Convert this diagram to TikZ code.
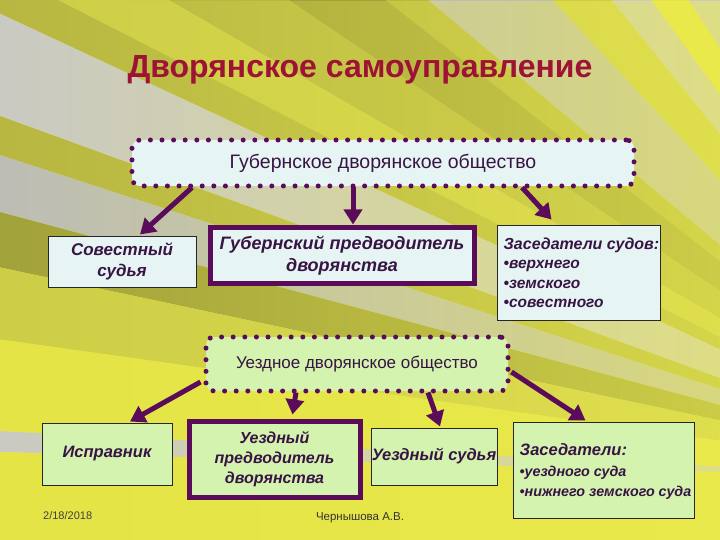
\documentclass[tikz,border=0pt]{standalone}
\usepackage{fontspec}
\setmainfont{Liberation Sans}
\usetikzlibrary{arrows.meta,calc,fadings}
\tikzfading[name=rightbright, left color=transparent!100, right color=transparent!45]
\definecolor{bgbase}{HTML}{ECEC4A}
\definecolor{byel}{HTML}{EEEE52}
\definecolor{yel}{HTML}{E4E446}
\definecolor{yolive}{HTML}{CDCD48}
\definecolor{olive}{HTML}{B7B742}
\definecolor{dolive}{HTML}{A2A23B}
\definecolor{lgrey}{HTML}{CACAC4}
\definecolor{mgrey}{HTML}{BDBDB6}
\definecolor{cyanfill}{HTML}{E6F4F3}
\definecolor{greenfill}{HTML}{D3F3AE}
\definecolor{dpurple}{HTML}{5A0C5A}
\definecolor{txtpurple}{HTML}{381444}
\definecolor{titlered}{HTML}{9E1236}
\newcommand\rayfan[3]{\fill[#3] (F) -- ($(F)+(-#1:1500)$) -- ($(F)+(-#2:1500)$) -- cycle;}
\tikzset{
  cbox/.style={fill=cyanfill, draw=black!85, line width=1pt, inner sep=0pt},
  gbox/.style={fill=greenfill, draw=black!85, line width=1pt, inner sep=0pt},
  pbox/.style={draw=dpurple, line width=5pt, inner sep=0pt},
  dotbox/.style={draw=dpurple, line width=5pt, dash pattern=on 0pt off 11.6pt, line cap=round, rounded corners=8pt, inner sep=0pt},
  bi/.style={font=\fontsize{17}{21}\selectfont\bfseries\itshape, text=txtpurple, align=center},
  arr/.style={draw=dpurple, line width=5pt, -{Triangle[length=15pt,width=18pt]}},
}
\begin{document}
\begin{tikzpicture}[x=1pt,y=-1pt]
\useasboundingbox (0,0) rectangle (720,540);
\begin{scope}
\clip (0,0) rectangle (720,540);
\fill[bgbase] (0,0) rectangle (720,540);
\coordinate (F) at (1000,480);
\rayfan{112}{120.3}{byel}
\rayfan{120.3}{123}{lgrey}
\rayfan{123}{126}{yel}
\rayfan{126}{129}{lgrey}
\rayfan{129}{133}{yolive}
\rayfan{133}{140}{mgrey}
\rayfan{140}{142}{olive}
\rayfan{142}{146}{dolive}
\rayfan{146}{150}{olive}
\rayfan{150}{153}{yolive}
\rayfan{153}{155}{olive}
\rayfan{155}{160}{lgrey}
\rayfan{160}{162}{olive}
\rayfan{162}{165}{mgrey}
\rayfan{165}{168}{dolive}
\rayfan{168}{172}{yolive}
\rayfan{172}{177.2}{yel}
\rayfan{177.2}{178.4}{lgrey}
\rayfan{178.4}{192}{yel}
\fill[byel, path fading=rightbright] (0,0) rectangle (720,540);
\end{scope}

\node[font=\fontsize{32}{36}\selectfont\bfseries, text=titlered] (title) at (360,70) {Дворянское самоуправление};

\node[dotbox, fill=cyanfill, minimum width=502pt, minimum height=46pt,
      font=\fontsize{19.5}{22}\selectfont, text=txtpurple] (g1) at (383,163) {Губернское дворянское общество};

\node[cbox, bi, minimum width=148pt, minimum height=51pt] (sov) at (122,261.5) {Совестный\\судья};
\node[pbox, fill=cyanfill, bi, font=\fontsize{18}{22}\selectfont\bfseries\itshape, minimum width=264pt, minimum height=55pt] (gp) at (342,255.5) {Губернский предводитель\\дворянства};
\node[cbox, minimum width=163pt, minimum height=94pt] (zas) at (578.5,273) {};
\node[anchor=west, align=left, text=txtpurple, inner sep=0pt,
      font=\fontsize{15.5}{19.5}\selectfont\bfseries\itshape] (zast) at ($(zas.west)+(7,0)$)
      {{\fontsize{16}{19.5}\selectfont Заседатели судов:}\\•верхнего\\•земского\\•совестного};

\node[dotbox, fill=greenfill, minimum width=302pt, minimum height=54pt,
      font=\fontsize{17}{20}\selectfont, text=txtpurple] (u2) at (357,364) {Уездное дворянское общество};

\node[gbox, bi, font=\fontsize{16.5}{20}\selectfont\bfseries\itshape, minimum width=130pt, minimum height=62pt] (isp) at (107,454) {Исправник};
\node[pbox, fill=greenfill, bi, font=\fontsize{16}{20}\selectfont\bfseries\itshape, minimum width=171pt, minimum height=76pt] (upr) at (274.5,459) {Уездный\\предводитель\\дворянства};
\node[gbox, bi, font=\fontsize{16.5}{20}\selectfont\bfseries\itshape, minimum width=126pt, minimum height=57pt] (usud) at (434,456.5) {Уездный судья};
\node[gbox, minimum width=181pt, minimum height=96pt] (zas2) at (603.5,470) {};
\node[anchor=west, align=left, text=txtpurple, inner sep=0pt,
      font=\fontsize{14.3}{20.5}\selectfont\bfseries\itshape] (zas2t) at ($(zas2.west)+(7,2)$)
      {{\fontsize{16.5}{20.5}\selectfont Заседатели:}\\•уездного суда\\•нижнего земского суда};

\node[anchor=west, font=\fontsize{11}{13}\selectfont, text=black!75, inner sep=0pt] (date) at (43,516) {2/18/2018};
\node[font=\fontsize{11.5}{13}\selectfont, text=black!80, inner sep=0pt] (auth) at (360,518) {Чернышова А.В.};

\draw[arr] ([xshift=-191pt,yshift=1pt]g1.south) -- ([xshift=18pt,yshift=1pt]sov.north);
\draw[arr] ([xshift=-30pt,yshift=1pt]g1.south) -- ([xshift=11pt,yshift=1pt]gp.north);
\draw[arr] ([xshift=139pt,yshift=1pt]g1.south) -- ([xshift=-27pt,yshift=6pt]zas.north);

\draw[arr] ([yshift=-18pt,xshift=-3pt]u2.west) -- ([xshift=23pt,yshift=1pt]isp.north);
\draw[arr] ([xshift=-61pt,yshift=1pt]u2.south) -- ([xshift=18pt,yshift=4pt]upr.north);
\draw[arr] ([xshift=71pt,yshift=1pt]u2.south) -- ([xshift=6pt,yshift=1pt]usud.north);
\draw[arr] ([yshift=-8pt,xshift=1pt]u2.east) -- ([xshift=-18pt,yshift=1pt]zas2.north);
\end{tikzpicture}
\end{document}
